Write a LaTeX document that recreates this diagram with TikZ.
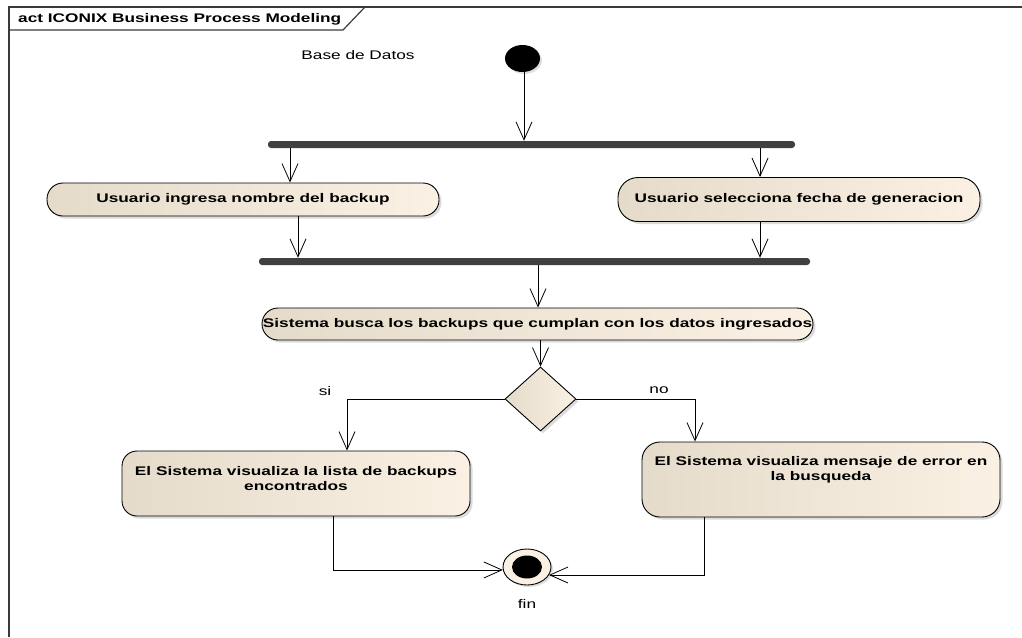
\documentclass[tikz,border=0pt]{standalone}
\usepackage{fontspec}
\setmainfont{Liberation Sans}[FakeStretch=1.38]
\usepackage{xcolor}
\usepackage{tikz}
\usetikzlibrary{arrows.meta,positioning,shadows,shapes.geometric}
\definecolor{actleft}{HTML}{E4DBCA}
\definecolor{actright}{HTML}{FAF1E4}
\definecolor{barfill}{HTML}{404040}
\definecolor{framerule}{HTML}{3A3A3A}

\begin{document}
\begin{tikzpicture}[x=1pt,y=-1pt,
      act/.style={draw=black,line width=0.9pt,rounded corners=#1,left color=actleft,right color=actright,
                  drop shadow={shadow xshift=2.5pt,shadow yshift=-2.5pt,fill=black!28},
                  inner sep=0pt,font=\fontsize{12.5}{15}\selectfont\bfseries,align=center},
      act/.default=16pt,
      acttext/.style={inner sep=0pt,font=\fontsize{12.5}{15}\selectfont\bfseries,align=center},
      bar/.style={fill=barfill,rounded corners=3pt,minimum height=7pt,inner sep=0pt},
      lbl/.style={inner sep=0pt,font=\fontsize{12.5}{15}\selectfont},
      flow/.style={line width=0.8pt,-{Straight Barb[length=18pt,width=16pt,line width=0.8pt]}},
      link/.style={line width=0.8pt}]
    \useasboundingbox (0,0) rectangle (1022,637);
    % frame
    \draw[framerule,line width=1.2pt] (9,637) -- (9,7) -- (1022,7);
    \draw[framerule,line width=1.2pt] (9,30) -- (343,30) -- (365,7);
    \node[lbl,font=\fontsize{12.5}{15}\selectfont\bfseries,anchor=west] (title) at (18,19)
      {act ICONIX Business Process Modeling};
    \node[lbl] (base) at (358,55) {Base de Datos};
    % start and bars
    \node[ellipse,fill=black,minimum width=35pt,minimum height=27pt,inner sep=0pt,
          drop shadow={shadow xshift=2pt,shadow yshift=-2pt,fill=black!25}] (start) at (522.5,58.5) {};
    \node[bar,minimum width=527pt] (fork) at (531.5,144.5) {};
    \node[bar,minimum width=551pt] (join) at (534.5,261.5) {};
    % actions
    \node[act,minimum width=392pt,minimum height=33pt] (ingresa) at (243,199.5) {Usuario ingresa nombre del backup};
    \node[act=20pt,minimum width=362pt,minimum height=44pt] (selecc) at (799,199.5) {Usuario selecciona fecha de generacion};
    \node[act,minimum width=551pt,minimum height=32pt] (busca) at (537.5,324) {Sistema busca los backups que cumplan con los datos ingresados};
    \node[diamond,draw=black,line width=0.9pt,left color=actleft,right color=actright,inner sep=0pt,
          minimum width=71pt,minimum height=64pt,
          drop shadow={shadow xshift=2.5pt,shadow yshift=-2.5pt,fill=black!28}] (dec) at (540.5,399) {};
    \node[act=15pt,minimum width=348pt,minimum height=65pt] (lista) at (296,483.5) {};
    \node[acttext,below=16pt of lista.north] (listat) {El Sistema visualiza la lista de backups\\encontrados};
    \node[act=18pt,minimum width=358pt,minimum height=75pt] (error) at (821,479.5) {};
    \node[acttext,below=15pt of error.north] (errort) {El Sistema visualiza mensaje de error en\\la busqueda};
    % final
    \node[ellipse,draw=black,line width=0.9pt,fill=actright,minimum width=48pt,minimum height=36pt,inner sep=0pt,
          drop shadow={shadow xshift=2pt,shadow yshift=-2pt,fill=black!25}] (fin) at (527,567) {};
    \fill (fin.center) ellipse [x radius=15pt,y radius=11.5pt];
    \node[lbl] (finl) at (527,604) {fin};
    \node[lbl] (si) at (325,391) {si};
    \node[lbl] (no) at (659,390) {no};
    % flows
    \draw[flow] (start.south -| 524,0) -- (fork.north -| 524,0);
    \draw[flow] (fork.south -| 290,0) -- (ingresa.north -| 290,0);
    \draw[flow] (fork.south -| 760,0) -- (selecc.north -| 760,0);
    \draw[flow] (ingresa.south -| 298,0) -- (join.north -| 298,0);
    \draw[flow] (selecc.south -| 760,0) -- (join.north -| 760,0);
    \draw[flow] (join.south -| 538,0) -- (busca.north -| 538,0);
    \draw[flow] (busca.south -| 540.5,0) -- (dec.north);
    \draw[flow] (dec.west) -| (lista.north -| 347,0);
    \draw[flow] (dec.east) -| (error.north -| 695,0);
    \draw[flow] (lista.south -| 333,0) |- (fin.187);
    \draw[flow] (error.south -| 704,0) |- (fin.-20);
  \end{tikzpicture}
\end{document}
